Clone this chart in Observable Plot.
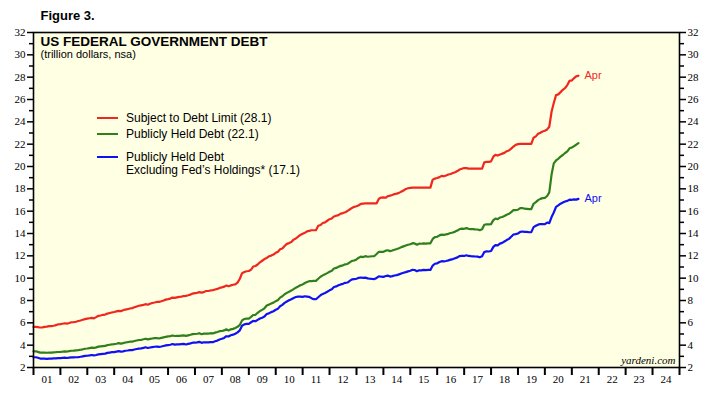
<!DOCTYPE html>
<html>
<head>
<meta charset="utf-8">
<script src="https://cdn.jsdelivr.net/npm/d3@7"></script>
<script src="https://cdn.jsdelivr.net/npm/@observablehq/plot@0.6"></script>
<style>
  html, body { margin: 0; padding: 0; background: #fff; }
  #wrap { position: relative; width: 728px; height: 393px; overflow: hidden; }
  .lg { position: absolute; font-family: "Liberation Sans", Arial, sans-serif; font-size: 12px; color: #000; line-height: 13px; white-space: nowrap; }
  .sw { position: absolute; height: 2px; width: 21px; }
</style>
</head>
<body>
<div id="wrap"></div>
<script>
// ---------- DATA (trillion dollars, monthly, Jan 2001 .. Apr 2021) ----------
const seriesStart = "2001-01-01";
const seriesEnd = "2021-04-01";

const subjectToLimit = [
  5.63, 5.64, 5.62, 5.58, 5.60, 5.64, 5.66, 5.70, 5.71, 5.74, 5.79, 5.87,
  5.88, 5.92, 5.96, 5.93, 5.98, 6.05, 6.07, 6.10, 6.16, 6.21, 6.27, 6.33,
  6.37, 6.41, 6.45, 6.40, 6.51, 6.63, 6.66, 6.72, 6.74, 6.83, 6.88, 6.93,
  6.97, 7.02, 7.07, 7.05, 7.12, 7.19, 7.22, 7.28, 7.32, 7.39, 7.46, 7.53,
  7.57, 7.61, 7.67, 7.62, 7.70, 7.78, 7.82, 7.87, 7.88, 7.93, 8.00, 8.08,
  8.12, 8.17, 8.26, 8.23, 8.28, 8.33, 8.35, 8.40, 8.42, 8.47, 8.53, 8.62,
  8.66, 8.69, 8.75, 8.70, 8.75, 8.85, 8.85, 8.90, 8.92, 8.99, 9.04, 9.13,
  9.18, 9.24, 9.34, 9.28, 9.35, 9.41, 9.45, 9.60, 9.95, 10.45, 10.55, 10.62,
  10.64, 10.77, 11.04, 11.09, 11.22, 11.42, 11.56, 11.71, 11.81, 11.96, 12.02, 12.11,
  12.27, 12.37, 12.59, 12.66, 12.88, 13.07, 13.14, 13.24, 13.45, 13.55, 13.72, 13.87,
  13.98, 14.06, 14.19, 14.24, 14.29, 14.29, 14.29, 14.69, 14.76, 14.94, 15.00, 15.14,
  15.28, 15.35, 15.52, 15.59, 15.65, 15.78, 15.83, 15.91, 16.02, 16.15, 16.29, 16.39,
  16.44, 16.53, 16.66, 16.68, 16.70, 16.70, 16.70, 16.70, 16.70, 16.70, 17.12, 17.22,
  17.23, 17.20, 17.34, 17.39, 17.45, 17.53, 17.57, 17.64, 17.75, 17.84, 17.99, 18.05,
  18.08, 18.11, 18.11, 18.11, 18.11, 18.11, 18.11, 18.11, 18.11, 18.11, 18.82, 18.92,
  18.97, 19.05, 19.16, 19.13, 19.19, 19.28, 19.33, 19.41, 19.49, 19.59, 19.73, 19.80,
  19.86, 19.85, 19.81, 19.81, 19.81, 19.81, 19.81, 19.81, 19.81, 20.37, 20.41, 20.42,
  20.46, 20.88, 21.04, 20.98, 21.07, 21.15, 21.22, 21.37, 21.44, 21.60, 21.79, 21.94,
  22.00, 22.03, 22.03, 22.03, 22.03, 22.03, 22.03, 22.58, 22.70, 22.93, 23.02, 23.14,
  23.20, 23.32, 23.56, 24.90, 25.69, 26.39, 26.46, 26.66, 26.87, 27.03, 27.29, 27.67,
  27.71, 27.92, 28.07, 28.13
];

const publiclyHeld = [
  3.45, 3.45, 3.40, 3.33, 3.33, 3.34, 3.32, 3.34, 3.34, 3.36, 3.37, 3.39,
  3.40, 3.42, 3.45, 3.43, 3.47, 3.50, 3.51, 3.53, 3.55, 3.59, 3.63, 3.68,
  3.70, 3.74, 3.78, 3.75, 3.80, 3.87, 3.89, 3.91, 3.93, 4.01, 4.04, 4.07,
  4.09, 4.13, 4.18, 4.14, 4.18, 4.24, 4.27, 4.31, 4.31, 4.37, 4.42, 4.46,
  4.48, 4.53, 4.58, 4.52, 4.56, 4.60, 4.63, 4.64, 4.60, 4.65, 4.70, 4.75,
  4.78, 4.81, 4.87, 4.82, 4.84, 4.84, 4.86, 4.88, 4.83, 4.88, 4.93, 4.99,
  5.00, 5.02, 5.07, 4.98, 5.03, 5.03, 5.04, 5.07, 5.05, 5.12, 5.18, 5.25,
  5.27, 5.32, 5.42, 5.32, 5.42, 5.46, 5.54, 5.64, 5.81, 6.22, 6.34, 6.37,
  6.38, 6.53, 6.70, 6.72, 6.90, 7.06, 7.16, 7.30, 7.55, 7.63, 7.73, 7.81,
  7.94, 8.04, 8.26, 8.38, 8.56, 8.68, 8.79, 8.89, 9.02, 9.15, 9.25, 9.36,
  9.44, 9.57, 9.65, 9.73, 9.73, 9.75, 9.76, 9.95, 10.13, 10.25, 10.35, 10.45,
  10.57, 10.67, 10.87, 10.92, 11.02, 11.10, 11.15, 11.24, 11.27, 11.42, 11.55, 11.58,
  11.68, 11.83, 11.93, 11.89, 11.97, 11.92, 11.94, 11.96, 11.98, 12.16, 12.36, 12.35,
  12.36, 12.46, 12.50, 12.42, 12.48, 12.55, 12.61, 12.68, 12.78, 12.85, 12.92, 12.99,
  13.04, 13.13, 13.11, 13.00, 13.09, 13.08, 13.12, 13.10, 13.12, 13.12, 13.51, 13.67,
  13.71, 13.83, 13.90, 13.88, 13.92, 13.97, 14.04, 14.09, 14.17, 14.26, 14.40, 14.43,
  14.42, 14.48, 14.42, 14.40, 14.39, 14.37, 14.36, 14.30, 14.39, 14.78, 14.83, 14.81,
  14.84, 15.20, 15.34, 15.29, 15.43, 15.48, 15.57, 15.68, 15.76, 15.92, 16.10, 16.10,
  16.13, 16.27, 16.28, 16.22, 16.21, 16.18, 16.19, 16.66, 16.81, 16.99, 17.10, 17.17,
  17.19, 17.36, 17.68, 19.28, 20.28, 20.54, 20.69, 20.88, 21.03, 21.21, 21.36, 21.63,
  21.70, 21.83, 21.95, 22.10
];

const exFedHoldings = [
  2.92, 2.92, 2.87, 2.80, 2.80, 2.80, 2.78, 2.80, 2.80, 2.81, 2.82, 2.84,
  2.84, 2.86, 2.88, 2.85, 2.88, 2.90, 2.91, 2.92, 2.93, 2.96, 3.00, 3.04,
  3.05, 3.08, 3.12, 3.08, 3.12, 3.18, 3.20, 3.22, 3.24, 3.31, 3.34, 3.37,
  3.38, 3.42, 3.46, 3.42, 3.45, 3.50, 3.52, 3.56, 3.56, 3.61, 3.66, 3.69,
  3.71, 3.76, 3.81, 3.75, 3.79, 3.83, 3.86, 3.87, 3.84, 3.88, 3.93, 3.98,
  4.01, 4.04, 4.10, 4.05, 4.07, 4.07, 4.09, 4.11, 4.06, 4.11, 4.16, 4.22,
  4.23, 4.25, 4.30, 4.21, 4.26, 4.25, 4.25, 4.28, 4.27, 4.35, 4.41, 4.51,
  4.57, 4.65, 4.80, 4.78, 4.89, 4.94, 5.02, 5.15, 5.33, 5.74, 5.86, 5.90,
  5.91, 6.05, 6.17, 6.14, 6.26, 6.39, 6.46, 6.56, 6.79, 6.85, 6.96, 7.04,
  7.17, 7.27, 7.49, 7.61, 7.79, 7.91, 8.02, 8.12, 8.23, 8.31, 8.35, 8.34,
  8.32, 8.38, 8.35, 8.32, 8.21, 8.12, 8.11, 8.29, 8.47, 8.59, 8.68, 8.78,
  8.91, 9.01, 9.21, 9.26, 9.36, 9.44, 9.49, 9.58, 9.61, 9.76, 9.89, 9.92,
  9.95, 10.03, 10.06, 10.02, 10.05, 9.98, 9.95, 9.93, 9.92, 10.02, 10.17, 10.13,
  10.11, 10.19, 10.23, 10.14, 10.18, 10.24, 10.27, 10.34, 10.42, 10.48, 10.54, 10.61,
  10.66, 10.75, 10.73, 10.62, 10.71, 10.70, 10.74, 10.72, 10.74, 10.74, 11.13, 11.29,
  11.33, 11.45, 11.52, 11.50, 11.54, 11.59, 11.66, 11.71, 11.79, 11.86, 11.98, 12.01,
  11.99, 12.05, 11.99, 11.97, 11.96, 11.94, 11.93, 11.87, 11.96, 12.34, 12.40, 12.39,
  12.43, 12.80, 12.96, 12.93, 13.09, 13.16, 13.28, 13.41, 13.52, 13.71, 13.91, 13.94,
  14.00, 14.15, 14.18, 14.14, 14.14, 14.11, 14.12, 14.57, 14.69, 14.79, 14.85, 14.84,
  14.83, 14.98, 14.93, 15.47, 15.88, 16.39, 16.52, 16.67, 16.77, 16.87, 16.92, 17.03,
  17.02, 17.05, 17.03, 17.10
];

const seriesNames = [
  "Subject to Debt Limit (28.1)",
  "Publicly Held Debt (22.1)",
  "Publicly Held Debt\nExcluding Fed\u2019s Holdings* (17.1)"
];
const seriesColors = ["#f0271d", "#2f7f1d", "#1010f5"];
const yMajorTicks = [2, 4, 6, 8, 10, 12, 14, 16, 18, 20, 22, 24, 26, 28, 30, 32];
const yMinorTicks = [3, 5, 7, 9, 11, 13, 15, 17, 19, 21, 23, 25, 27, 29, 31];
const xYears = [2001, 2002, 2003, 2004, 2005, 2006, 2007, 2008, 2009, 2010, 2011, 2012,
                2013, 2014, 2015, 2016, 2017, 2018, 2019, 2020, 2021, 2022, 2023, 2024];
const xLabels = ["01","02","03","04","05","06","07","08","09","10","11","12",
                 "13","14","15","16","17","18","19","20","21","22","23","24"];

// ---------- BUILD ----------
const months = d3.utcMonth.range(new Date(seriesStart), d3.utcMonth.offset(new Date(seriesEnd), 1));
const mk = (vals) => vals.map((v, i) => ({date: months[i], value: v}));
const dRed = mk(subjectToLimit), dGreen = mk(publiclyHeld), dBlue = mk(exFedHoldings);

const yearStarts = [...xYears, 2025].map(y => new Date(Date.UTC(y, 0, 1)));
const midYears = xYears.map(y => new Date(Date.UTC(y, 6, 2)));
const labelMap = new Map(midYears.map((d, i) => [+d, xLabels[i]]));

const serif = "'Liberation Serif', 'Times New Roman', serif";
const sans = "'Liberation Sans', Arial, sans-serif";

const chart = Plot.plot({
  width: 728,
  height: 393,
  marginLeft: 33,
  marginRight: 49,
  marginTop: 32,
  marginBottom: 26,
  style: {fontFamily: serif, fontSize: "11px", background: "#fff", color: "#000", overflow: "visible"},
  x: {type: "utc", domain: [yearStarts[0], yearStarts[yearStarts.length - 1]]},
  y: {domain: [2, 32]},
  marks: [
    Plot.frame({fill: "#ffffe4", stroke: "none"}),
    Plot.axisY({anchor: "left", ticks: yMajorTicks, tickSize: 6, tickPadding: 2, label: null, strokeWidth: 1.5, fontSize: 11}),
    Plot.axisY({anchor: "left", ticks: yMinorTicks, tickSize: 4, tickFormat: () => "", label: null, strokeWidth: 1.5}),
    Plot.axisY({anchor: "right", ticks: yMajorTicks, tickSize: 6, tickPadding: 2, label: null, strokeWidth: 1.5, fontSize: 11}),
    Plot.axisY({anchor: "right", ticks: yMinorTicks, tickSize: 4, tickFormat: () => "", label: null, strokeWidth: 1.5}),
    Plot.axisX({ticks: yearStarts, tickSize: 8, tickFormat: () => "", label: null, strokeWidth: 2}),
    Plot.axisX({ticks: midYears, tickSize: 0, tickPadding: 8, tickFormat: d => labelMap.get(+d), label: null, fontSize: 11}),
    Plot.line(dRed, {x: "date", y: "value", stroke: seriesColors[0], strokeWidth: 2.2}),
    Plot.line(dGreen, {x: "date", y: "value", stroke: seriesColors[1], strokeWidth: 2.2}),
    Plot.line(dBlue, {x: "date", y: "value", stroke: seriesColors[2], strokeWidth: 2.2}),
    Plot.text([dRed[dRed.length - 1]], {x: "date", y: "value", text: d => d3.utcFormat("%b")(d.date), dx: 6, textAnchor: "start", fill: seriesColors[0], fontFamily: sans, fontSize: 11}),
    Plot.text([dBlue[dBlue.length - 1]], {x: "date", y: "value", text: d => d3.utcFormat("%b")(d.date), dx: 6, textAnchor: "start", fill: seriesColors[2], fontFamily: sans, fontSize: 11}),
    Plot.frame({stroke: "#000", strokeWidth: 1.6}),
    Plot.text(["US FEDERAL GOVERNMENT DEBT"], {frameAnchor: "top-left", dx: 7, dy: 4, textAnchor: "start", lineAnchor: "top", fontFamily: sans, fontWeight: "bold", fontSize: 13.5, fill: "#000"}),
    Plot.text(["(trillion dollars, nsa)"], {frameAnchor: "top-left", dx: 7, dy: 18, textAnchor: "start", lineAnchor: "top", fontFamily: sans, fontSize: 11, fill: "#000"}),
    Plot.text(["Figure 3."], {frameAnchor: "top-left", dx: 7, dy: -22, textAnchor: "start", lineAnchor: "top", fontFamily: sans, fontWeight: "bold", fontSize: 13, fill: "#000"}),
    Plot.text(["yardeni.com"], {frameAnchor: "bottom-right", dx: -4, dy: -4, textAnchor: "end", lineAnchor: "bottom", fontFamily: serif, fontStyle: "italic", fontSize: 11, fill: "#000"})
  ]
});

const wrap = document.getElementById("wrap");
wrap.appendChild(chart);

// Legend overlay
const legendRows = [
  {top: 112, lineY: 118},
  {top: 128, lineY: 134},
  {top: 151, lineY: 157}
];
seriesNames.forEach((name, i) => {
  const sw = document.createElement("div");
  sw.className = "sw";
  sw.style.left = "97px";
  sw.style.top = (legendRows[i].lineY - 1) + "px";
  sw.style.background = seriesColors[i];
  wrap.appendChild(sw);
  const t = document.createElement("div");
  t.className = "lg";
  t.style.left = "126px";
  t.style.top = legendRows[i].top + "px";
  t.innerHTML = name.split("\n").join("<br>");
  wrap.appendChild(t);
});
</script>
</body>
</html>
